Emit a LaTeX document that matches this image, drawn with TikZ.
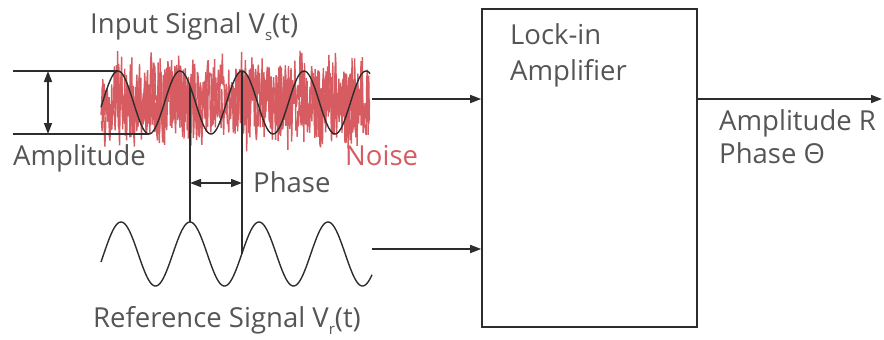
\documentclass[tikz,border=0pt]{standalone}
\usepackage{fontspec}
\setmainfont{Open Sans}
\usepackage{tikz}
\usetikzlibrary{positioning,arrows.meta,calc}
\definecolor{liink}{RGB}{85,85,85}
\definecolor{liline}{RGB}{45,45,45}
\definecolor{lired}{RGB}{214,92,98}
\newcommand{\lowsub}[1]{\raisebox{-0.5ex}{\fontsize{15}{15}\selectfont #1}}
\tikzset{
  lbl/.style={font=\fontsize{27.5}{33}\selectfont, text=liink, inner sep=0pt, anchor=base west},
  noiselbl/.style={lbl, text=lired},
  lockbox/.style={draw=liline, line width=1.6pt, minimum width=215pt,
                  minimum height=318pt, inner sep=0pt},
  sig/.style={-{Triangle[length=11pt,width=8pt]}, line width=1.6pt, draw=liline},
  dim/.style={{Triangle[length=11pt,width=8pt]}-{Triangle[length=11pt,width=8pt]},
              line width=1.6pt, draw=liline},
  guide/.style={line width=1.6pt, draw=liline},
  wave/.style={line width=1.4pt, draw=liline, samples=240},
  noiseline/.style={line width=1.4pt, draw=lired, line join=bevel, samples=420},
}

\begin{document}
\begin{tikzpicture}[x=1pt, y=-1pt]
\useasboundingbox (0,0) rectangle (884,340);

% input signal buried in noise
\pgfmathsetseed{11}
\draw[noiseline] plot[domain=101:370] (\x, {100+44*rand+10*rand});
\draw[noiseline] plot[domain=101.5:369.5] (\x, {101+32*rand+8*rand});
\draw[wave] plot[domain=101:370] (\x, {102.5-31.5*sin(5.80645*(\x-102.5))});

% reference signal
\draw[wave] plot[domain=101:372] (\x, {254-32*sin(5.21739*(\x-172.75))});

% amplitude marks
\coordinate (atop) at (13,71);
\coordinate (apk) at (118,71);
\coordinate (abot) at (13,134);
\coordinate (atr) at (149,134);
\coordinate (adimt) at (48,71);
\coordinate (adimb) at (48,134);
\draw[guide] (atop) -- (apk);
\draw[guide] (abot) -- (atr);
\draw[dim] (adimt) -- (adimb);

% phase marks
\coordinate (ph1) at (190,86);
\coordinate (ph1b) at (190,222);
\coordinate (ph2) at (242,71);
\coordinate (ph2b) at (242,254);
\coordinate (pha) at (190,183);
\coordinate (phb) at (242,183);
\draw[guide] (ph1) -- (ph1b);
\draw[guide] (ph2) -- (ph2b);
\draw[dim] (pha) -- (phb);

% labels
\node[lbl] (intxt) at (90,33) {Input Signal V\lowsub{s}(t)};
\node[lbl] (amptxt) at (13,165) {Amplitude};
\node[noiselbl] (noisetxt) at (345,165) {Noise};
\node[lbl] (phasetxt) at (253,192) {Phase};
\node[lbl] (reftxt) at (93,327) {Reference Signal V\lowsub{r}(t)};

% lock-in block
\node[lockbox] (lia) at (589.5,168) {};
\node[lbl] (locktxt) at (510,45) {Lock-in};
\node[lbl] (amplif) at ([yshift=-35pt]locktxt.base west) {Amplifier};

% inputs and output
\coordinate (inend) at (372,99);
\coordinate (refend) at (372,249);
\coordinate (outend) at (882,99);
\draw[sig] (inend) -- (inend -| lia.west);
\draw[sig] (refend) -- (refend -| lia.west);
\draw[sig] (lia.east |- inend) -- (outend);
\node[lbl] (outR) at (719,130) {Amplitude R};
\node[lbl] (outP) at ([yshift=-33pt]outR.base west) {Phase Θ};
\end{tikzpicture}
\end{document}
